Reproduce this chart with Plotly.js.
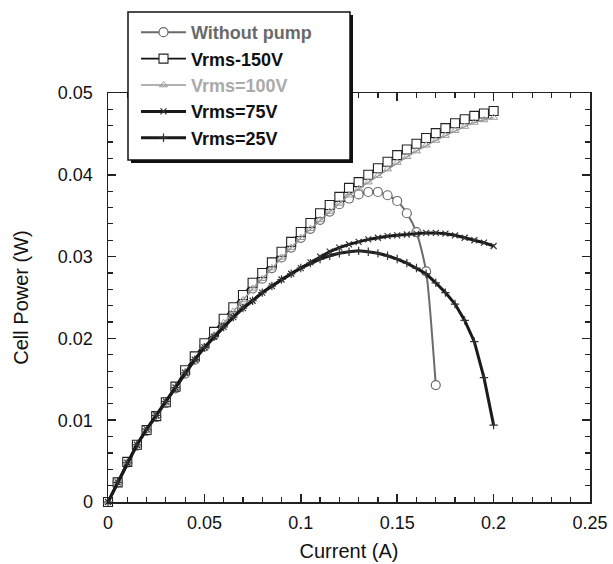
<!DOCTYPE html>
<html>
<head>
<meta charset="utf-8">
<script src="https://cdn.plot.ly/plotly-3.0.1.min.js"></script>
<style>html,body{margin:0;padding:0;background:#fff;}#chart{width:613px;height:564px;}</style>
</head>
<body>
<div id="chart"></div>
<script>
// Current (A)
const currentA = [0,0.005,0.01,0.015,0.02,0.025,0.03,0.035,0.04,0.045,0.05,0.055,0.06,0.065,0.07,0.075,0.08,0.085,0.09,0.095,0.1,
  0.105,0.11,0.115,0.12,0.125,0.13,0.135,0.14,0.145,0.15,0.155,0.16,0.165,0.17,0.175,0.18,0.185,0.19,0.195,0.2];
const currentNoPump = [0,0.005,0.01,0.015,0.02,0.025,0.03,0.035,0.04,0.045,0.05,0.055,0.06,0.065,0.07,0.075,0.08,0.085,0.09,0.095,0.1,
  0.105,0.11,0.115,0.12,0.125,0.13,0.135,0.14,0.145,0.15,0.155,0.16,0.165,0.17];
// Cell power (W)
const powerNoPump = [0,0.0024,0.0048,0.0069,0.0087,0.0104,0.0121,0.0139,0.0157,0.0174,0.0190,0.0204,0.0219,0.0233,0.0247,0.0261,0.0273,0.0286,0.0299,0.0311,0.0323,
  0.0334,0.0345,0.0355,0.0364,0.0371,0.0376,0.0379,0.0379,0.0375,0.0368,0.0353,0.0330,0.0282,0.0143];
const power150 = [0,0.0024,0.0049,0.0070,0.0088,0.0105,0.0122,0.0141,0.0161,0.0178,0.0194,0.0208,0.0224,0.0238,0.0253,0.0268,0.0280,0.0293,0.0306,0.0318,0.0330,
  0.0341,0.0353,0.0363,0.0373,0.0384,0.0391,0.0400,0.0408,0.0416,0.0424,0.0431,0.0438,0.0445,0.0451,0.0457,0.0463,0.0468,0.0472,0.0475,0.0478];
const power100 = [0,0.0024,0.0048,0.0069,0.0087,0.0104,0.0121,0.0139,0.0157,0.0174,0.0190,0.0204,0.0219,0.0233,0.0247,0.0261,0.0273,0.0286,0.0299,0.0311,0.0323,
  0.0334,0.0345,0.0355,0.0365,0.0375,0.0383,0.0391,0.0399,0.0407,0.0415,0.0422,0.0429,0.0436,0.0442,0.0448,0.0454,0.0459,0.0464,0.0467,0.0470];
const power75 = [0,0.0024,0.0048,0.0070,0.0089,0.0106,0.0123,0.0140,0.0158,0.0174,0.0189,0.0202,0.0214,0.0226,0.0237,0.0246,0.0256,0.0264,0.0272,0.0279,0.0286,
  0.0293,0.0300,0.0306,0.0311,0.0315,0.0318,0.0321,0.0323,0.0325,0.0326,0.0327,0.0328,0.0329,0.0329,0.0328,0.0326,0.0323,0.0320,0.0317,0.0313];
const power25 = [0,0.0024,0.0048,0.0070,0.0089,0.0106,0.0123,0.0140,0.0158,0.0174,0.0189,0.0202,0.0214,0.0226,0.0237,0.0246,0.0256,0.0264,0.0272,0.0279,0.0286,
  0.0292,0.0297,0.0301,0.0304,0.0306,0.0307,0.0306,0.0304,0.0301,0.0297,0.0292,0.0286,0.0279,0.0268,0.0256,0.0242,0.0222,0.0196,0.0152,0.0094];
const seriesNames = ['Without pump','Vrms-150V','Vrms=100V','Vrms=75V','Vrms=25V'];

const font = 'Liberation Sans, Arial, Helvetica, sans-serif';
const traces = [
  {x: currentNoPump, y: powerNoPump, name: '<b><span style="color:#6a6a6a">'+seriesNames[0]+'</span></b>',
   mode:'lines+markers', line:{color:'#6a6a6a', width:2, shape:'spline', smoothing:0.6},
   marker:{symbol:'circle', size:9, color:'#fff', line:{color:'#6a6a6a', width:1.2}}},
  {x: currentA, y: power150, name: '<b>'+seriesNames[1]+'</b>',
   mode:'lines+markers', line:{color:'#111', width:1.6},
   marker:{symbol:'square', size:9, color:'#fff', line:{color:'#222', width:1.1}}},
  {x: currentA, y: power100, name: '<b><span style="color:#aaa">'+seriesNames[2]+'</span></b>',
   mode:'lines+markers', line:{color:'#999', width:1.4},
   marker:{symbol:'triangle-up-open', size:7, color:'#999', line:{color:'#999', width:1}}},
  {x: currentA, y: power75, name: '<b>'+seriesNames[3]+'</b>',
   mode:'lines+markers', line:{color:'#1a1a1a', width:3},
   marker:{symbol:'x-thin-open', size:6, color:'#333', line:{color:'#333', width:1.2}}},
  {x: currentA, y: power25, name: '<b>'+seriesNames[4]+'</b>',
   mode:'lines+markers', line:{color:'#1a1a1a', width:3},
   marker:{symbol:'cross-thin-open', size:6, color:'#333', line:{color:'#333', width:1.2}}}
];
traces.forEach(t => t.cliponaxis = false);

function px2x(px){ return (px-108)/482; }
function px2y(py){ return (502-py)/409; }

const layout = {
  width:613, height:564,
  margin:{l:108, r:23, t:93, b:62},
  paper_bgcolor:'#fff', plot_bgcolor:'#fff',
  font:{family:font, color:'#111'},
  showlegend:true,
  legend:{x:px2x(136), y:px2y(14), xanchor:'left', yanchor:'top', bgcolor:'rgba(0,0,0,0)', borderwidth:0,
          font:{family:font, size:18, color:'#111'}, tracegroupgap:0, itemwidth:45},
  xaxis:{range:[0,0.25], title:{text:'Current (A)', font:{size:20, family:font}, standoff:12},
         tickvals:[0,0.05,0.1,0.15,0.2,0.25], ticktext:['0','0.05','0.1','0.15','0.2','0.25'],
         ticks:'inside', ticklen:8, tickwidth:1.5, tickcolor:'#222', showline:true, linecolor:'#222', linewidth:1.5,
         mirror:'allticks', showgrid:false, zeroline:false, tickfont:{size:18, family:font}, ticklabelstandoff:4,
         minor:{dtick:0.01, tick0:0, ticks:'inside', ticklen:5, tickwidth:1.2, tickcolor:'#222', showgrid:false}},
  yaxis:{range:[0,0.05], title:{text:'Cell Power (W)', font:{size:20, family:font}, standoff:24},
         tickvals:[0,0.01,0.02,0.03,0.04,0.05], ticktext:['0','0.01','0.02','0.03','0.04','0.05'],
         ticks:'inside', ticklen:8, tickwidth:1.5, tickcolor:'#222', showline:true, linecolor:'#222', linewidth:1.5,
         mirror:'allticks', showgrid:false, zeroline:false, tickfont:{size:18, family:font}, ticklabelstandoff:10,
         minor:{dtick:0.002, tick0:0, ticks:'inside', ticklen:5, tickwidth:1.2, tickcolor:'#222', showgrid:false}},
  shapes:[
    {type:'rect', xref:'paper', yref:'paper', x0:px2x(131), x1:px2x(353), y0:px2y(15), y1:px2y(163),
     fillcolor:'#111', line:{width:0}, layer:'above'},
    {type:'rect', xref:'paper', yref:'paper', x0:px2x(128), x1:px2x(350), y0:px2y(12), y1:px2y(160),
     fillcolor:'#fff', line:{color:'#111', width:1.5}, layer:'above'}
  ]
};
Plotly.newPlot('chart', traces, layout, {staticPlot:true, displayModeBar:false});
</script>
</body>
</html>
